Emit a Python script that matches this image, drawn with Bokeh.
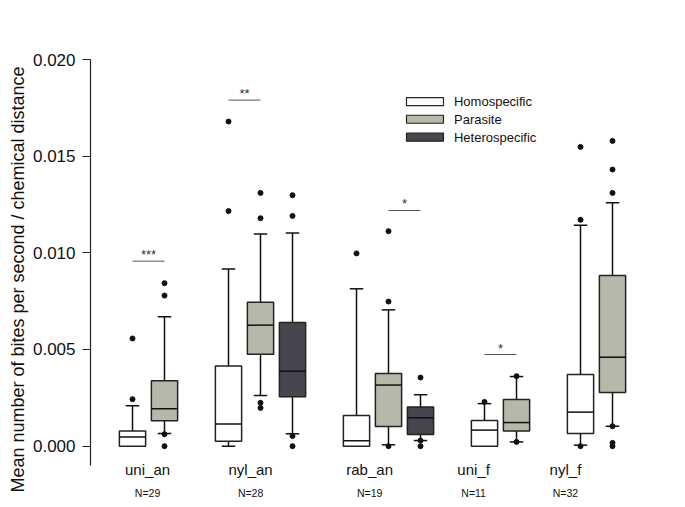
import math
from bokeh.plotting import figure
from bokeh.models import (LinearAxis, FixedTicker, NumeralTickFormatter, Range1d,
                          ColumnDataSource)
from bokeh.core.properties import value
from bokeh.embed import file_html
from bokeh.resources import INLINE

NAN = float("nan")

# ---------------- data ----------------
groups = ["uni_an", "nyl_an", "rab_an", "uni_f", "nyl_f"]
n_labels = ["N=29", "N=28", "N=19", "N=11", "N=32"]
series = ["Homospecific", "Parasite", "Heterospecific"]
y_title = "Mean number of bites per second / chemical distance"

homo_lo = [0.0, 0.0, 0.0, 0.0, 0.00005]
homo_q1 = [0.0, 0.00026, 0.0, 0.0, 0.00066]
homo_med = [0.00047, 0.00114, 0.00028, 0.00083, 0.00176]
homo_q3 = [0.00078, 0.00414, 0.00159, 0.00133, 0.00371]
homo_hi = [0.00209, 0.00916, 0.00814, 0.00220, 0.01143]
homo_out = [[0.00243, 0.00557], [0.01216, 0.01679], [0.00997], [0.00229],
            [0.0, 0.01171, 0.01548]]

para_lo = [0.00066, 0.00262, 0.00007, 0.00022, 0.00103]
para_q1 = [0.00131, 0.00476, 0.00102, 0.00078, 0.00278]
para_med = [0.00193, 0.00626, 0.00316, 0.00122, 0.00460]
para_q3 = [0.00338, 0.00745, 0.00376, 0.00241, 0.00883]
para_hi = [0.00669, 0.01097, 0.00705, 0.00360, 0.01259]
para_out = [[0.0, 0.00062, 0.00779, 0.00843],
            [0.00198, 0.00224, 0.01179, 0.01310],
            [0.0, 0.00748, 0.01112],
            [0.00022, 0.00362],
            [0.0, 0.00017, 0.00103, 0.01310, 0.01431, 0.01579]]

het_lo = [NAN, 0.00064, 0.00029, NAN, NAN]
het_q1 = [NAN, 0.00255, 0.00060, NAN, NAN]
het_med = [NAN, 0.00388, 0.00147, NAN, NAN]
het_q3 = [NAN, 0.00640, 0.00203, NAN, NAN]
het_hi = [NAN, 0.01102, 0.00266, NAN, NAN]
het_out = [[], [0.0, 0.00052, 0.01191, 0.01298], [0.0, 0.00029, 0.00355], [], []]

# significance brackets: group, series pair, height, label
sig_group = ["uni_an", "nyl_an", "rab_an", "uni_f"]
sig_pair = [(0, 1), (0, 1), (1, 2), (0, 1)]
sig_y = [0.00957, 0.01790, 0.01219, 0.00474]
sig_text = ["***", "**", "*", "*"]

y_ticks = [0.0, 0.005, 0.010, 0.015, 0.020]

# ---------------- layout ----------------
stats = [
    (homo_lo, homo_q1, homo_med, homo_q3, homo_hi, homo_out),
    (para_lo, para_q1, para_med, para_q3, para_hi, para_out),
    (het_lo, het_q1, het_med, het_q3, het_hi, het_out),
]
fills = ["#ffffff", "#b7b7aa", "#46464f"]

# slot positions: one slot per box, one empty slot between groups
starts = []
s = 0
for gi in range(len(groups)):
    starts.append(s)
    n_present = sum(1 for st in stats if not math.isnan(st[1][gi]))
    s += n_present + 1

label_shift = [0.47, 0.69, 0.41, -0.34, -0.47]  # label offset from group start slot
BW = 0.41   # half box width (slots)
CW = 0.21   # half cap width

p = figure(frame_width=585, frame_height=440, output_backend="svg",
           toolbar_location=None, x_axis_type=None, y_axis_type=None,
           min_border_left=90, min_border_right=0, min_border_top=59,
           min_border_bottom=0,
           x_range=Range1d(-1.3125, -1.3125 + 585 / 32),
           y_range=Range1d(0.020 - 440 / 19333.0, 0.020))
p.outline_line_color = None
p.background_fill_color = "white"
p.border_fill_color = "white"

yaxis = LinearAxis(ticker=FixedTicker(ticks=y_ticks),
                   formatter=NumeralTickFormatter(format="0.000"),
                   bounds=(-0.001, 0.020), axis_label=y_title)
yaxis.axis_line_color = "#222222"
yaxis.axis_line_width = 1.2
yaxis.major_tick_line_color = "#222222"
yaxis.major_tick_out = 8
yaxis.major_tick_in = 0
yaxis.minor_tick_line_color = None
yaxis.major_label_text_font = "Liberation Sans"
yaxis.major_label_text_font_size = "17px"
yaxis.major_label_text_color = "#111111"
yaxis.major_label_standoff = 7
yaxis.axis_label_text_font = "Liberation Sans"
yaxis.axis_label_text_font_size = "18px"
yaxis.axis_label_text_font_style = "normal"
yaxis.axis_label_text_color = "#111111"
yaxis.axis_label_standoff = 2
p.add_layout(yaxis, "left")

for si, (lo, q1, med, q3, hi, outs) in enumerate(stats):
    xs = []
    ox, oy = [], []
    for gi in range(len(groups)):
        if math.isnan(q1[gi]):
            continue
        x = starts[gi] + si
        xs.append(x)
        for v in outs[gi]:
            ox.append(x)
            oy.append(v)
    idx = [gi for gi in range(len(groups)) if not math.isnan(q1[gi])]
    src = ColumnDataSource(dict(
        x=xs,
        left=[x - BW for x in xs], right=[x + BW for x in xs],
        cl=[x - CW for x in xs], cr=[x + CW for x in xs],
        lo=[lo[g] for g in idx], q1=[q1[g] for g in idx],
        med=[med[g] for g in idx], q3=[q3[g] for g in idx],
        hi=[hi[g] for g in idx]))
    # whiskers
    p.segment(x0="x", y0="q3", x1="x", y1="hi", source=src,
              line_color="#111111", line_width=1.5)
    p.segment(x0="x", y0="q1", x1="x", y1="lo", source=src,
              line_color="#111111", line_width=1.5)
    p.segment(x0="cl", y0="hi", x1="cr", y1="hi", source=src,
              line_color="#111111", line_width=1.5)
    p.segment(x0="cl", y0="lo", x1="cr", y1="lo", source=src,
              line_color="#111111", line_width=1.5)
    # boxes
    p.quad(left="left", right="right", bottom="q1", top="q3", source=src,
           fill_color=fills[si], line_color="#222222", line_width=1.5)
    p.segment(x0="left", y0="med", x1="right", y1="med", source=src,
              line_color="#111111", line_width=1.5)
    # outliers
    p.scatter(ox, oy, size=5, color="#111111")

# significance brackets
bx0, bx1, by, bt = [], [], [], []
for g, (a, b2), yv, txt in zip(sig_group, sig_pair, sig_y, sig_text):
    gi = groups.index(g)
    bx0.append(starts[gi] + a)
    bx1.append(starts[gi] + b2)
    by.append(yv)
    bt.append(txt)
p.segment(x0=bx0, y0=by, x1=bx1, y1=by, line_color="#555555", line_width=1)
p.text(x=[(a + b2) / 2 for a, b2 in zip(bx0, bx1)], y=by, text=bt,
       text_font=value("Liberation Sans"), text_font_size="13px",
       text_color="#333333", text_align="center", text_baseline="bottom",
       y_offset=1)

# category labels
lx = [starts[i] + label_shift[i] for i in range(len(groups))]
p.text(x=lx, y=[0.0] * len(groups), text=groups, y_offset=23,
       text_font=value("Liberation Sans"), text_font_size="15px",
       text_color="#111111", text_align="center", text_baseline="middle")
p.text(x=lx, y=[0.0] * len(groups), text=n_labels, y_offset=47,
       text_font=value("Liberation Sans"), text_font_size="10.5px",
       text_color="#111111", text_align="center", text_baseline="middle")

# legend (drawn manually)
leg_x = 9.14
leg_y = [0.01782, 0.01691, 0.01598]
p.rect(x=[leg_x] * 3, y=leg_y, width=37, height=8, width_units="screen",
       height_units="screen", fill_color=fills, line_color="#222222", line_width=1.2)
p.text(x=[leg_x] * 3, y=leg_y, text=series, x_offset=29,
       text_font=value("Liberation Sans"), text_font_size="13px",
       text_color="#111111", text_align="left", text_baseline="middle")

open("out.html", "w").write(file_html(p, INLINE))
